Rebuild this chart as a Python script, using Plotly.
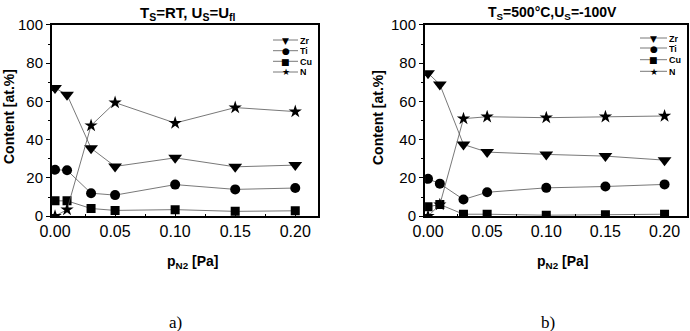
import plotly.graph_objects as go
from plotly.subplots import make_subplots

pressure = [0.0, 0.01, 0.03, 0.05, 0.10, 0.15, 0.20]

# panel a) Ts=RT, Us=Ufl
a_zr = [67, 63.5, 35.5, 26, 30.5, 25.8, 26.7]
a_ti = [24.3, 24, 12, 11, 16.5, 14, 14.7]
a_cu = [8, 8, 4, 3, 3.4, 2.5, 2.8]
a_n = [0, 3.4, 47.4, 59.4, 48.7, 56.8, 54.7]

# panel b) Ts=500C, Us=-100V
b_zr = [74.8, 68.9, 37.5, 33.5, 32.3, 31.4, 29.3]
b_ti = [19.5, 17, 8.7, 12.5, 14.8, 15.5, 16.6]
b_cu = [4.9, 6.1, 1, 1, 0.5, 0.7, 1]
b_n = [0, 6, 51, 52, 51.5, 52, 52.4]

series_names = ["Zr", "Ti", "Cu", "N"]
symbols = ["triangle-down", "circle", "square", "star"]
legend_glyphs = ["▼", "●", "■", "★"]
sizes = [12, 10, 9, 10]

titles = ["T<sub>S</sub>=RT, U<sub>S</sub>=U<sub>fl</sub>",
          "T<sub>S</sub>=500°C,U<sub>S</sub>=-100V"]
panel_labels = ["a)", "b)"]
x_ticks = [0.0, 0.05, 0.10, 0.15, 0.20]
x_tick_text = ["0.00", "0.05", "0.10", "0.15", "0.20"]
y_ticks = [0, 20, 40, 60, 80, 100]

W, H = 690, 331
fig = make_subplots(rows=1, cols=2)

font = "Liberation Sans"

panels = [(a_zr, a_ti, a_cu, a_n), (b_zr, b_ti, b_cu, b_n)]
for p, data in enumerate(panels):
    for i, vals in enumerate(data):
        fig.add_trace(go.Scatter(
            x=pressure, y=vals, mode="lines+markers",
            name=series_names[i], showlegend=False,
            line=dict(color="#555555", width=0.8),
            marker=dict(symbol=symbols[i], size=sizes[i], color="black",
                        line=dict(width=0)),
        ), row=1, col=p + 1)

domains = [(0.0754, 0.461), (0.616, 0.9957)]
ydom = (0.347, 0.9245)
for p in range(2):
    xa = "xaxis" if p == 0 else "xaxis2"
    ya = "yaxis" if p == 0 else "yaxis2"
    fig.layout[xa].update(
        domain=list(domains[p]), range=[-0.0025, 0.219], automargin=False,
        tickvals=x_ticks, ticktext=x_tick_text,
        ticks="inside", ticklen=4, tickwidth=1, tickcolor="black",
        minor=dict(ticks="inside", ticklen=2, tickvals=[0.025, 0.075, 0.125, 0.175], tickcolor="black"),
        showline=True, linecolor="black", linewidth=2, mirror=True,
        showgrid=False, zeroline=False,
        tickfont=dict(family=font, size=16, color="black"),
    )
    fig.layout[ya].update(
        domain=list(ydom), range=[0, 100], automargin=False,
        tickvals=y_ticks,
        ticks="outside", ticklen=4, tickwidth=1, tickcolor="black",
        minor=dict(ticks="outside", ticklen=2, tickvals=[10, 30, 50, 70, 90], tickcolor="black"),
        showline=True, linecolor="black", linewidth=2, mirror=True,
        showgrid=False, zeroline=False,
        tickfont=dict(family=font, size=15, color="black"),
    )

# titles, axis titles, panel labels
centers = [188, 552]
title_sizes = [15, 14]
xtitle_centers = [192, 562]
ytitle_centers = [9, 378]
label_centers = [175, 548]
for p in range(2):
    fig.add_annotation(text="<b>" + titles[p] + "</b>", xref="paper", yref="paper",
                       x=centers[p] / W, y=1 - 13 / H, showarrow=False,
                       font=dict(family=font, size=title_sizes[p], color="black"),
                       xanchor="center", yanchor="middle")
    fig.add_annotation(text="<b>p<sub>N2</sub> [Pa]</b>", xref="paper", yref="paper",
                       x=xtitle_centers[p] / W, y=1 - 262 / H, showarrow=False,
                       font=dict(family=font, size=14, color="black"),
                       xanchor="center", yanchor="middle")
    fig.add_annotation(text="<b>Content [at.%]</b>", xref="paper", yref="paper",
                       x=ytitle_centers[p] / W, y=1 - 117 / H, showarrow=False, textangle=-90,
                       font=dict(family=font, size=14, color="black"),
                       xanchor="center", yanchor="middle")
    fig.add_annotation(text=panel_labels[p], xref="paper", yref="paper",
                       x=label_centers[p] / W, y=1 - 322 / H, showarrow=False,
                       font=dict(family="Liberation Serif", size=17, color="black"),
                       xanchor="center", yanchor="middle")

# legends (compact, drawn as line shapes + glyph annotations)
leg_line = [(273, 298), (640, 667)]
leg_rows = [[40, 50.7, 61.3, 72], [38, 48, 59.7, 71.3]]
glyph_sizes = [9, 9, 9, 9]
for p in range(2):
    x0, x1 = leg_line[p]
    for i, name in enumerate(series_names):
        yy = 1 - leg_rows[p][i] / H
        fig.add_shape(type="line", xref="paper", yref="paper",
                      x0=x0 / W, x1=x1 / W, y0=yy, y1=yy,
                      line=dict(color="#555555", width=0.8))
        fig.add_annotation(text=legend_glyphs[i], xref="paper", yref="paper",
                           x=(x0 + x1) / 2 / W, y=yy, showarrow=False,
                           font=dict(family="DejaVu Sans", size=glyph_sizes[i], color="black"),
                           xanchor="center", yanchor="middle", height=9, borderpad=0)
        fig.add_annotation(text="<b>" + name + "</b>", xref="paper", yref="paper",
                           x=(x1 + 1) / W, y=yy, showarrow=False,
                           font=dict(family=font, size=9, color="black"),
                           xanchor="left", yanchor="middle", height=9, borderpad=0)

fig.update_layout(
    width=W, height=H, margin=dict(l=0, r=0, t=0, b=0, autoexpand=False),
    plot_bgcolor="white", paper_bgcolor="white",
    showlegend=False,
)

fig.write_html("out.html")
